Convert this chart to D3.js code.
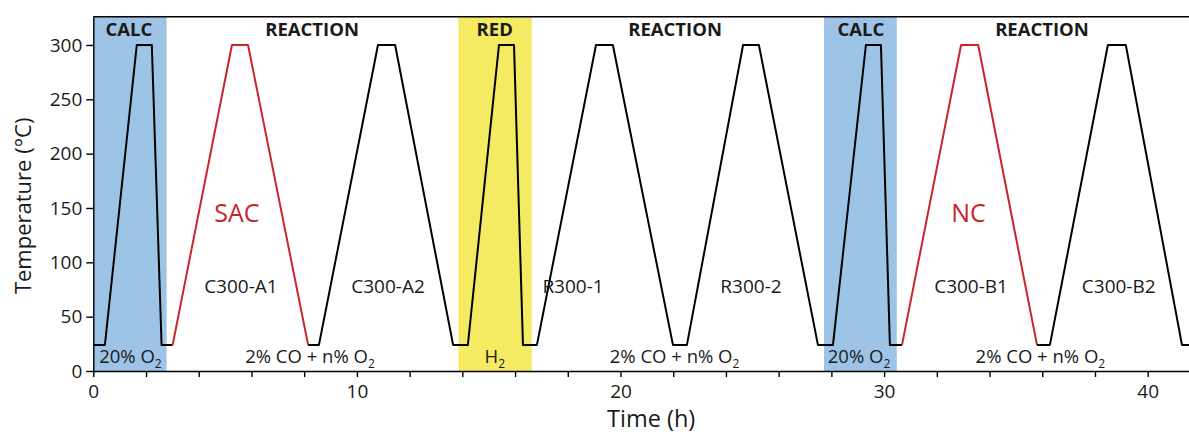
<!DOCTYPE html>
<html>
<head>
<meta charset="utf-8">
<script src="https://cdn.jsdelivr.net/npm/d3@7"></script>
<style>
  body { margin: 0; background: #fff; }
  svg text { font-family: "Open Sans", "Noto Sans", sans-serif; fill: #1a1a1a; }
</style>
</head>
<body>
<svg id="chart" width="1189" height="435"></svg>
<script>
// temperature programme (h, degC)
const profileTime = [0, 0.44, 1.65, 2.22, 2.59, 3.01, 5.26, 5.87, 8.15, 8.56, 10.80, 11.45,
  13.65, 14.21, 15.39, 15.96, 16.30, 16.83, 19.07, 19.71, 21.99, 22.52, 24.65, 25.25,
  27.49, 28.06, 29.31, 29.88, 30.22, 30.68, 32.92, 33.57, 35.80, 36.29, 38.49, 39.17, 41.30, 41.6];
const profileTemp = [24, 24, 300, 300, 24, 24, 300, 300, 24, 24, 300, 300,
  24, 24, 300, 300, 24, 24, 300, 300, 24, 24, 300, 300,
  24, 24, 300, 300, 24, 24, 300, 300, 24, 24, 300, 300, 24, 24];
// runs drawn in red (first reaction after each calcination)
const redRunStart = [3.01, 30.68];
const redRunEnd = [8.15, 35.80];

// shaded pretreatment phases
const phaseName = ['CALC', 'RED', 'CALC'];
const phaseStart = [0, 13.85, 27.72];
const phaseEnd = [2.78, 16.63, 30.48];

// labels
const topLabels = ['CALC', 'REACTION', 'RED', 'REACTION', 'CALC', 'REACTION'];
const topLabelTime = [1.35, 8.30, 15.23, 22.07, 29.12, 35.99];
const gasLabels = ['20% O', '2% CO + n% O', 'H', '2% CO + n% O', '20% O', '2% CO + n% O'];
const gasLabelTime = [1.41, 8.22, 15.23, 22.05, 29.05, 35.93];
const runLabels = ['C300-A1', 'C300-A2', 'R300-1', 'R300-2', 'C300-B1', 'C300-B2'];
const runLabelTime = [5.6, 11.18, 18.2, 24.95, 33.3, 38.9];
const runLabelTemp = 72;
const catLabels = ['SAC', 'NC'];
const catLabelTime = [5.45, 33.2];
const catLabelTemp = 137;

const xTicks = d3.range(0, 42, 2);
const yTicks = [0, 50, 100, 150, 200, 250, 300];

const phaseColor = { CALC: '#9dc3e6', RED: '#f4eb62' };
const red = '#c8262c';

const svg = d3.select('#chart');
const plotLeft = 93.3, plotTop = 16.7, plotBottom = 371;

const x = d3.scaleLinear().domain([0, 41.6]).range([plotLeft, plotLeft + 41.6 * 26.36]);
const y = d3.scaleLinear().domain([0, 326]).range([plotBottom, plotTop]);

svg.append('defs').append('clipPath').attr('id', 'plotClip')
  .append('rect')
  .attr('x', plotLeft).attr('y', plotTop)
  .attr('width', 1189 - plotLeft).attr('height', plotBottom - plotTop);

// phase bands
svg.append('g').selectAll('rect')
  .data(phaseName)
  .join('rect')
  .attr('x', (d, i) => x(phaseStart[i]))
  .attr('width', (d, i) => x(phaseEnd[i]) - x(phaseStart[i]))
  .attr('y', y(326))
  .attr('height', y(0) - y(326))
  .attr('fill', d => phaseColor[d]);

// temperature profile, split into black / red pieces
const pts = profileTime.map((t, i) => [t, profileTemp[i]]);
const isRed = (a, b) => redRunStart.some((s, k) => a[0] >= s && b[0] <= redRunEnd[k]);
const pieces = [];
for (let i = 1; i < pts.length; i++) {
  const c = isRed(pts[i - 1], pts[i]) ? red : '#000';
  const last = pieces[pieces.length - 1];
  if (last && last.color === c) {
    last.pts.push(pts[i]);
  } else {
    pieces.push({ color: c, pts: [pts[i - 1], pts[i]] });
  }
}
const line = d3.line().x(d => x(d[0])).y(d => y(d[1]));
svg.append('g').attr('clip-path', 'url(#plotClip)')
  .selectAll('path')
  .data(pieces)
  .join('path')
  .attr('d', d => line(d.pts))
  .attr('fill', 'none')
  .attr('stroke', d => d.color)
  .attr('stroke-width', 2)
  .attr('stroke-linejoin', 'round');

// axes
const xAxis = svg.append('g')
  .attr('transform', `translate(0,${plotBottom})`)
  .call(d3.axisBottom(x).tickValues(xTicks)
    .tickFormat(d => d % 10 === 0 ? d : '')
    .tickSize(6).tickSizeOuter(0).tickPadding(8));

const yAxis = svg.append('g')
  .attr('transform', `translate(${plotLeft},0)`)
  .call(d3.axisLeft(y).tickValues(yTicks).tickSize(7).tickSizeOuter(0).tickPadding(4));

[xAxis, yAxis].forEach(a => {
  a.selectAll('text').style('font-size', '19px').attr('fill', '#1a1a1a');
  a.selectAll('line').attr('stroke', '#000').attr('stroke-width', 1.4);
  a.select('.domain').attr('stroke', '#000').attr('stroke-width', 1.4);
});

// top frame line
svg.append('line')
  .attr('x1', plotLeft).attr('x2', 1189)
  .attr('y1', y(326)).attr('y2', y(326))
  .attr('stroke', '#000').attr('stroke-width', 1.4);

// axis titles
svg.append('text')
  .attr('transform', `translate(31,${(plotTop + plotBottom) / 2 + 12}) rotate(-90)`)
  .attr('text-anchor', 'middle')
  .style('font-size', '22px')
  .text('Temperature (°C)');

svg.append('text')
  .attr('x', (plotLeft + 1189) / 2 + 10)
  .attr('y', 427)
  .attr('text-anchor', 'middle')
  .style('font-size', '23.5px')
  .text('Time (h)');

// phase headings
svg.append('g').selectAll('text')
  .data(topLabels)
  .join('text')
  .attr('x', (d, i) => x(topLabelTime[i]))
  .attr('y', 36)
  .attr('text-anchor', 'middle')
  .style('font-size', '18.5px')
  .style('font-weight', 'bold')
  .text(d => d);

// gas composition
const gas = svg.append('g').selectAll('text')
  .data(gasLabels)
  .join('text')
  .attr('x', (d, i) => x(gasLabelTime[i]))
  .attr('y', 363)
  .attr('text-anchor', 'middle')
  .style('font-size', '18.5px');
gas.append('tspan').text(d => d);
gas.append('tspan').attr('dy', 5).style('font-size', '12px').text('2');

// run names
svg.append('g').selectAll('text')
  .data(runLabels)
  .join('text')
  .attr('x', (d, i) => x(runLabelTime[i]))
  .attr('y', y(runLabelTemp))
  .attr('text-anchor', 'middle')
  .style('font-size', '19px')
  .text(d => d);

// catalyst names
svg.append('g').selectAll('text')
  .data(catLabels)
  .join('text')
  .attr('x', (d, i) => x(catLabelTime[i]))
  .attr('y', y(catLabelTemp))
  .attr('text-anchor', 'middle')
  .style('font-size', '25px')
  .style('fill', red)
  .text(d => d);
</script>
</body>
</html>
